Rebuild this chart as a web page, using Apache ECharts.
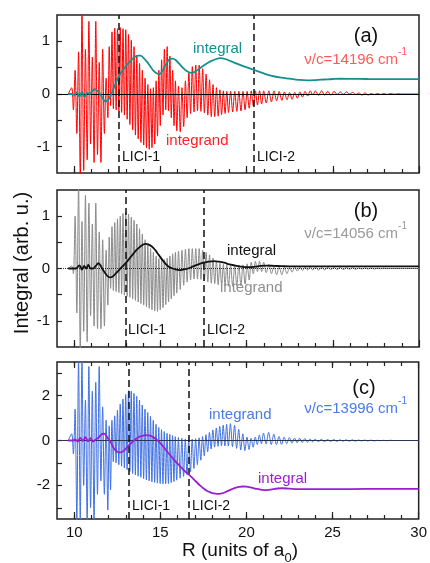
<!DOCTYPE html>
<html><head><meta charset="utf-8">
<script src="https://cdn.jsdelivr.net/npm/echarts@6/dist/echarts.min.js"></script>
<style>html,body{margin:0;padding:0;background:#fff}#c{width:430px;height:563px}</style>
</head><body><div id="c"></div>
<script>
// R positions of the integrand extrema (shared by the three panels)
const extremaR = [9.65,
 9.85,9.95,10.05,10.15,10.25,10.35,10.45,10.55,10.65,10.75,10.85,10.95,11.05,11.15,11.25,11.35,11.45,11.55,11.65,11.75,11.85,11.95,
 12.03,12.11,12.19,12.27,12.35,12.43,12.51,12.59,12.67,12.75,12.83,12.91,12.99,13.07,13.15,13.23,13.31,13.39,13.47,13.55,13.63,13.71,13.79,13.87,13.95,14.03,14.11,14.19,14.27,14.35,14.43,14.51,14.59,14.67,14.75,14.83,14.91,14.99,15.07,15.15,15.23,15.31,15.39,15.47,15.55,15.63,15.71,15.79,15.87,15.95,
 16.05,16.15,16.25,16.35,16.45,16.55,16.65,16.75,16.85,16.95,17.05,17.15,17.25,17.35,17.45,17.55,17.65,17.75,17.85,17.95,18.05,18.15,18.25,18.35,18.45,18.55,18.65,18.75,18.85,18.95,
 19.07,19.19,19.31,19.43,19.55,19.67,19.79,19.91,20.03,20.15,20.27,20.39,20.51,20.63,20.75,20.87,20.99,
 21.14,21.29,21.44,21.59,21.74,21.89,22.04,22.19,22.34,22.49,22.64,22.79,22.94,23.09,23.24,23.39,23.54,23.69,23.84,23.99,
 24.17,24.35,24.53,24.71,24.89,25.07,25.25,25.43,25.61,25.79,25.97,26.15,26.33,26.51,26.69,26.87,27.05,27.23,27.41,27.59,27.77,27.95,
 28.15,28.35,28.55,28.75,28.95,29.15,29.35,29.55,29.75,29.95,30.0];

const integrandA = [0,
 0.12,-0.30,0.45,-0.75,0.80,-1.60,1.60,-1.45,0.85,-1.25,1.38,-0.95,0.70,-1.30,1.38,-1.15,0.60,-1.30,0.85,-0.75,0.30,-0.45,
 0.90,-0.22,1.18,-0.28,1.25,-0.30,1.24,-0.32,1.26,-0.35,1.24,-0.40,1.22,-0.48,1.13,-0.58,1.02,-0.68,0.90,-0.78,0.72,-0.85,0.58,-0.92,0.45,-0.97,0.30,-1.02,0.18,-1.05,0.10,-1.02,0.12,-0.95,0.25,-0.80,0.45,-0.60,0.65,-0.40,0.85,-0.30,0.90,-0.32,0.72,-0.45,0.45,-0.60,0.25,-0.70,
 0.15,-0.72,0.12,-0.62,0.25,-0.45,0.42,-0.37,0.52,-0.34,0.55,-0.32,0.55,-0.33,0.48,-0.36,0.38,-0.40,0.27,-0.43,0.18,-0.43,0.12,-0.42,0.08,-0.39,0.06,-0.37,0.05,-0.35,
 0.05,-0.34,0.05,-0.33,0.05,-0.32,0.05,-0.30,0.05,-0.27,0.06,-0.23,0.06,-0.21,0.06,-0.19,0.06,
 -0.17,0.06,-0.15,0.06,-0.13,0.05,-0.12,0.04,-0.11,0.03,-0.10,0.03,-0.08,0.04,-0.06,0.05,-0.04,0.06,-0.02,0.06,
 -0.02,0.06,-0.02,0.05,-0.02,0.05,-0.01,0.04,-0.01,0.04,0.00,0.03,-0.01,0.02,-0.02,0.02,-0.02,0.01,-0.01,0.01,-0.01,0.01,
 -0.01,0.01,-0.005,0.005,0,0,0,0,0,0,0];

const integrandB = [0,
 0.05,-0.10,1.00,-0.85,1.60,-1.60,0.90,-1.20,1.40,-1.40,1.25,-0.90,0.85,-1.10,1.25,-1.15,0.70,-1.15,0.55,-1.10,0.35,-0.70,
 0.60,-0.38,0.80,-0.42,0.88,-0.44,0.95,-0.46,1.00,-0.48,1.05,-0.51,1.08,-0.53,1.04,-0.55,0.98,-0.58,0.92,-0.61,0.85,-0.64,0.76,-0.67,0.66,-0.70,0.55,-0.73,0.46,-0.76,0.38,-0.79,0.31,-0.81,0.24,-0.82,0.19,-0.79,0.16,-0.75,0.17,-0.69,0.20,-0.64,0.24,-0.58,0.28,-0.52,0.31,-0.47,
 0.33,-0.40,0.35,-0.32,0.37,-0.26,0.38,-0.22,0.38,-0.20,0.38,-0.20,0.38,-0.21,0.35,-0.24,0.31,-0.26,0.26,-0.28,0.20,-0.29,0.14,-0.31,0.10,-0.32,0.08,-0.33,0.07,-0.34,
 0.06,-0.34,0.06,-0.33,0.06,-0.33,0.07,-0.30,0.09,-0.22,0.12,-0.10,0.14,-0.06,0.14,-0.06,0.12,
 -0.08,0.08,-0.10,0.05,-0.12,0.03,-0.12,0.02,-0.10,0.02,-0.07,0.03,-0.05,0.03,-0.04,0.03,-0.03,0.03,-0.03,0.03,
 -0.03,0.02,-0.03,0.02,-0.02,0.02,-0.02,0.02,-0.02,0.015,-0.015,0.015,-0.015,0.01,-0.01,0.01,-0.01,0.01,-0.01,0.005,-0.005,0.005,
 0,0,0,0,0,0,0,0,0,0,0];

const integrandC = [0,
 0.30,-0.60,1.40,-3.60,3.60,-3.60,3.60,-2.00,1.80,-3.60,3.30,-3.00,2.20,-3.60,2.60,-2.40,3.30,-1.80,1.50,-2.40,0.90,-3.10,
 0.65,-2.20,0.90,-0.95,1.10,-1.00,1.35,-1.08,1.62,-1.15,1.85,-1.22,2.05,-1.30,2.22,-1.38,2.20,-1.47,2.10,-1.53,1.97,-1.59,1.80,-1.64,1.58,-1.70,1.40,-1.76,1.25,-1.80,1.08,-1.84,0.90,-1.87,0.72,-1.90,0.58,-1.92,0.48,-1.93,0.40,-1.93,0.32,-1.92,0.27,-1.88,0.22,-1.83,0.17,-1.77,
 0.13,-1.68,0.10,-1.60,0.07,-1.52,0.05,-1.40,0.06,-1.25,0.08,-1.08,0.12,-0.88,0.18,-0.68,0.26,-0.50,0.36,-0.38,0.47,-0.30,0.56,-0.26,0.63,-0.24,0.68,-0.24,0.72,-0.25,
 0.75,-0.28,0.68,-0.35,0.50,-0.42,0.30,-0.45,0.15,-0.40,0.10,-0.30,0.15,-0.18,0.25,-0.15,0.33,
 -0.16,0.36,-0.18,0.28,-0.18,0.18,-0.17,0.15,-0.14,0.13,-0.12,0.11,-0.10,0.10,-0.09,0.09,-0.08,0.07,-0.06,0.06,
 -0.05,0.05,-0.05,0.04,-0.04,0.04,-0.04,0.03,-0.03,0.03,-0.03,0.03,-0.03,0.02,-0.02,0.02,-0.02,0.02,-0.02,0.01,-0.01,0.01,
 -0.01,0.01,0,0,0,0,0,0,0,0,0];

const integralA = [[9.65,0],[9.9,0],[10.0,-0.02],[10.15,0.03],[10.3,-0.05],[10.45,0.04],[10.6,-0.06],[10.75,0.02],[10.9,0.0],[11.05,0.06],[11.2,0.09],[11.35,0.06],[11.5,0.0],[11.65,-0.08],[11.8,-0.14],[11.95,-0.12],[12.1,-0.04],[12.3,0.12],[12.5,0.28],[12.7,0.40],[12.9,0.49],[13.1,0.57],[13.3,0.64],[13.5,0.70],[13.7,0.73],[13.85,0.73],[14.0,0.69],[14.2,0.62],[14.4,0.53],[14.6,0.44],[14.8,0.39],[14.95,0.38],[15.1,0.43],[15.3,0.55],[15.5,0.65],[15.7,0.67],[15.9,0.64],[16.1,0.57],[16.3,0.50],[16.5,0.44],[16.8,0.40],[17.0,0.42],[17.3,0.49],[17.6,0.56],[17.9,0.62],[18.2,0.66],[18.5,0.68],[18.8,0.66],[19.1,0.62],[19.4,0.58],[19.8,0.53],[20.4,0.46],[21.0,0.39],[21.4,0.35],[22.0,0.31],[22.5,0.29],[23.0,0.27],[23.5,0.26],[24.0,0.265],[24.5,0.275],[25.0,0.285],[25.5,0.29],[26.0,0.288],[27.0,0.285],[28.0,0.283],[29.0,0.282],[30.0,0.282]];

const integralB = [[9.65,0],[9.9,0],[10.1,0.0],[10.3,0.06],[10.45,-0.02],[10.57,0.05],[10.7,0.0],[10.82,0.07],[10.95,0.0],[11.1,0.0],[11.25,0.05],[11.4,0.1],[11.5,0.07],[11.65,-0.02],[11.8,-0.09],[11.95,-0.15],[12.1,-0.17],[12.25,-0.15],[12.4,-0.10],[12.6,-0.03],[12.8,0.04],[13.0,0.11],[13.2,0.19],[13.4,0.27],[13.6,0.35],[13.8,0.41],[14.0,0.46],[14.15,0.47],[14.3,0.46],[14.5,0.42],[14.7,0.35],[14.9,0.26],[15.1,0.17],[15.3,0.09],[15.5,0.03],[15.7,0.0],[15.9,-0.02],[16.1,-0.03],[16.3,-0.02],[16.6,0.0],[16.9,0.04],[17.2,0.08],[17.5,0.11],[17.8,0.13],[18.1,0.14],[18.4,0.13],[18.7,0.11],[19.0,0.08],[19.3,0.06],[19.6,0.04],[19.9,0.025],[20.2,0.025],[20.5,0.035],[20.8,0.05],[21.2,0.055],[21.6,0.05],[22.0,0.045],[22.5,0.04],[23.5,0.04],[25.0,0.04],[30.0,0.04]];

const integralC = [[9.65,0],[9.9,0.0],[10.05,0.05],[10.2,-0.05],[10.35,0.12],[10.5,-0.02],[10.65,0.15],[10.8,-0.03],[10.95,0.1],[11.1,-0.05],[11.25,0.05],[11.4,0.12],[11.55,0.25],[11.7,0.3],[11.8,0.28],[11.95,0.1],[12.1,-0.05],[12.3,-0.35],[12.5,-0.50],[12.65,-0.53],[12.8,-0.50],[13.0,-0.36],[13.2,-0.2],[13.4,-0.05],[13.6,0.08],[13.8,0.17],[14.0,0.22],[14.2,0.24],[14.4,0.22],[14.6,0.14],[14.8,0.03],[15.0,-0.12],[15.2,-0.3],[15.4,-0.5],[15.6,-0.68],[15.8,-0.86],[16.0,-1.03],[16.2,-1.19],[16.4,-1.35],[16.66,-1.52],[16.9,-1.7],[17.1,-1.85],[17.3,-2.0],[17.5,-2.13],[17.7,-2.24],[17.9,-2.31],[18.1,-2.36],[18.3,-2.38],[18.5,-2.37],[18.7,-2.33],[18.9,-2.26],[19.1,-2.19],[19.3,-2.12],[19.5,-2.08],[19.8,-2.05],[20.0,-2.06],[20.3,-2.1],[20.6,-2.16],[20.9,-2.2],[21.2,-2.21],[21.5,-2.18],[21.8,-2.14],[22.1,-2.13],[22.5,-2.15],[23.0,-2.17],[24.0,-2.17],[25.0,-2.17],[27.0,-2.16],[30.0,-2.16]];

const liciA = [12.61, 20.43];
const liciB = [12.98, 17.49];
const liciC = [13.18, 16.63];

const xMajorTicks = [10,15,20,25,30];
const xMinorTicks = [10,11,12,13,14,15,16,17,18,19,20,21,22,23,24,25,26,27,28,29];
const yTicksAB = [-1,-0.5,0,0.5,1];
const yLabelsAB = [-1,0,1];
const yTicksC = [-3,-2,-1,0,1,2,3];
const yLabelsC = [-2,0,2];

const FONT = '"Liberation Sans", Arial, Helvetica, sans-serif';
const pairs = (xs, ys) => xs.map((x, i) => [x, ys[i]]);

const grids = [
  {left:57, right:11, top:15, height:158},
  {left:57, right:11, top:190, height:157},
  {left:57, right:11, top:362, height:157}
].map(g => Object.assign(g, {show:true, borderColor:'#222', borderWidth:1.5, backgroundColor:'transparent'}));

function xAx(g, pos, ticks, len, labels) {
  return {gridIndex:g, type:'value', min:9, max:30, position:pos,
    axisLine:{show:false, onZero:false}, splitLine:{show:false},
    axisTick:{show:true, inside:true, length:len, customValues:ticks, lineStyle:{color:'#222', width:1.2}},
    axisLabel:{show:!!labels, customValues:labels || ticks, fontSize:15, color:'#111', fontFamily:FONT, margin:6}};
}
function yAx(g, min, max, ticks, labels) {
  return {gridIndex:g, type:'value', min:min, max:max, position:'left',
    axisLine:{show:false, onZero:false}, splitLine:{show:false},
    axisTick:{show:true, inside:true, length:5, customValues:ticks, lineStyle:{color:'#222', width:1.2}},
    axisLabel:{customValues:labels, fontSize:15, color:'#111', fontFamily:FONT, margin:7}};
}

const xAxes = [
  xAx(0,'bottom',xMajorTicks,7), xAx(0,'bottom',xMinorTicks,4),
  xAx(1,'bottom',xMajorTicks,7), xAx(1,'bottom',xMinorTicks,4),
  xAx(2,'bottom',xMajorTicks,7,xMajorTicks), xAx(2,'bottom',xMinorTicks,4),
  xAx(2,'top',xMajorTicks,6), xAx(2,'top',xMinorTicks,4)
];
const yAxes = [
  yAx(0,-1.5,1.5,yTicksAB,yLabelsAB),
  yAx(1,-1.5,1.5,yTicksAB,yLabelsAB),
  yAx(2,-3.5,3.5,yTicksC,yLabelsC)
];

function integrandSeries(xi, yi, vals, color, lici, zeroStyle) {
  return {type:'line', xAxisIndex:xi, yAxisIndex:yi, data:pairs(extremaR, vals),
    symbol:'none', smooth:0.3, lineStyle:{color:color, width:1}, z:2, silent:true, animation:false,
    markLine:{symbol:['none','none'], silent:true, animation:false, label:{show:false}, z:5,
      data:[{yAxis:0, lineStyle:zeroStyle}].concat(lici.map(v => ({xAxis:v, lineStyle:{type:[7,4], color:'#111', width:1.5}})))}};
}
function integralSeries(xi, yi, data, color) {
  return {type:'line', xAxisIndex:xi, yAxisIndex:yi, data:data, symbol:'none', smooth:0.4,
    lineStyle:{color:color, width:1.8}, z:10, silent:true, animation:false};
}

const series = [
  integrandSeries(0,0,integrandA,'#ff0000',liciA,{type:'solid', color:'#000', width:1}),
  integralSeries(0,0,integralA,'#15908e'),
  integrandSeries(2,1,integrandB,'#8a8a8a',liciB,{type:'dotted', color:'#333', width:1}),
  integralSeries(2,1,integralB,'#111111'),
  integrandSeries(4,2,integrandC,'#3f70e2',liciC,{type:'solid', color:'#2b3550', width:1.2}),
  integralSeries(4,2,integralC,'#9b1fd0')
];

function txt(x, y, text, color, size, align) {
  return {type:'text', x:x, y:y, silent:true, z:100,
    style:{text:text, fill:color, fontSize:size, fontFamily:FONT, align:align || 'left', verticalAlign:'middle'}};
}
function nuTxt(x, y, text, color) {
  return {type:'text', x:x, y:y, silent:true, z:100,
    style:{text:'{m|' + text + '}{s|-1}', align:'right', verticalAlign:'middle',
      rich:{m:{fontSize:15, fontFamily:FONT, fill:color, lineHeight:20, verticalAlign:'bottom'},
            s:{fontSize:10, fontFamily:FONT, fill:color, lineHeight:12, verticalAlign:'top'}}}};
}

const graphics = [
  txt(366, 36, '(a)', '#111', 20, 'center'),
  nuTxt(407, 57, 'ν/c=14196 cm', '#ff5a5a'),
  txt(193, 49, 'integral', '#15908e', 15),
  txt(166, 141, 'integrand', '#ff1f1f', 15),
  txt(122, 157, 'LICI-1', '#111', 14),
  txt(257, 157, 'LICI-2', '#111', 14),

  txt(366, 211, '(b)', '#111', 20, 'center'),
  nuTxt(407, 231, 'ν/c=14056 cm', '#9a9a9a'),
  txt(227, 251, 'integral', '#111', 15),
  txt(220, 288, 'integrand', '#8f8f8f', 15),
  txt(128, 330, 'LICI-1', '#111', 14),
  txt(207, 330, 'LICI-2', '#111', 14),

  txt(364, 388, '(c)', '#111', 20, 'center'),
  nuTxt(407, 406, 'ν/c=13996 cm', '#4a7be6'),
  txt(209, 415, 'integrand', '#4a7be6', 15),
  txt(258, 479, 'integral', '#9b1fd0', 15),
  txt(132, 506, 'LICI-1', '#111', 14),
  txt(192, 506, 'LICI-2', '#111', 14),

  {type:'text', x:22, y:263, rotation:Math.PI/2, silent:true, z:100,
    style:{text:'Integral (arb. u.)', fill:'#111', fontSize:20, fontFamily:FONT, align:'center', verticalAlign:'middle'}},
  {type:'text', x:240, y:553, silent:true, z:100,
    style:{text:'{m|R (units of a}{s|0}{m|)}', align:'center', verticalAlign:'middle',
      rich:{m:{fontSize:19, fontFamily:FONT, fill:'#111', lineHeight:24, verticalAlign:'top'},
            s:{fontSize:13, fontFamily:FONT, fill:'#111', lineHeight:14, verticalAlign:'bottom'}}}}
];

const chart = echarts.init(document.getElementById('c'), null, {renderer:'canvas'});
chart.setOption({
  animation:false,
  backgroundColor:'#ffffff',
  grid:grids,
  xAxis:xAxes,
  yAxis:yAxes,
  series:series,
  graphic:graphics
});
</script>
</body></html>
